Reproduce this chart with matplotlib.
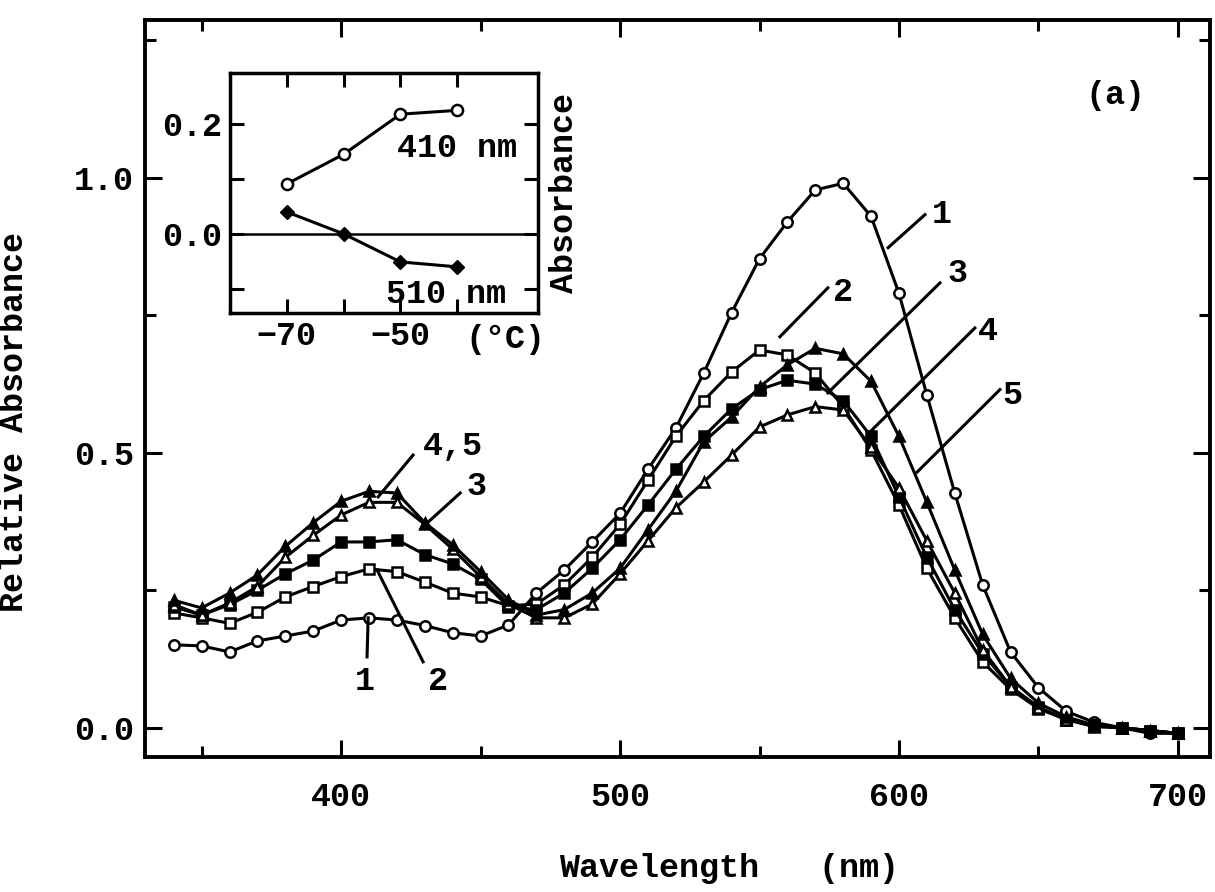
import numpy as np
import matplotlib
matplotlib.use("Agg")
import matplotlib.pyplot as plt
from matplotlib.ticker import MultipleLocator, FixedLocator

plt.rcParams['font.family'] = ['Liberation Mono', 'DejaVu Sans Mono']
plt.rcParams['font.weight'] = 'bold'
plt.rcParams['axes.labelweight'] = 'bold'

# wavelength (nm) and relative absorbance of the five spectra
wavelength = list(range(340, 701, 10))
curve1 = [.151, .149, .138, .158, .167, .176, .196, .200, .196, .186, .173, .167, .187,
          .245, .287, .338, .390, .470, .545, .645, .755, .853, .920, .978, .990, .930,
          .790, .605, .427, .260, .138, .073, .030, .010, .000, -.010, -.010]
curve2 = [.209, .200, .190, .210, .238, .257, .275, .289, .284, .265, .245, .238, .222,
          .225, .260, .310, .370, .450, .530, .595, .647, .687, .678, .645, .584, .505,
          .405, .290, .200, .120, .070, .035, .015, .005, .000, -.005, -.010]
curve3 = [.220, .205, .224, .250, .280, .305, .338, .338, .342, .315, .298, .270, .220,
          .215, .245, .290, .342, .405, .470, .530, .580, .615, .632, .625, .595, .530,
          .420, .310, .215, .135, .075, .038, .015, .005, .000, -.005, -.010]
curve4 = [.224, .205, .227, .257, .310, .350, .387, .410, .410, .370, .325, .275, .225,
          .200, .200, .225, .280, .340, .400, .447, .496, .547, .569, .584, .578, .510,
          .436, .340, .245, .142, .075, .036, .015, .002, .000, -.005, -.010]
curve5 = [.232, .218, .245, .278, .330, .373, .412, .430, .427, .373, .333, .284, .233,
          .205, .215, .245, .290, .360, .430, .520, .565, .620, .660, .690, .680, .630,
          .530, .410, .287, .170, .090, .045, .020, .005, .000, -.005, -.010]

# inset: absorbance change vs temperature
temp = [-70, -60, -50, -40]
abs410 = [0.091, 0.145, 0.218, 0.225]
abs510 = [0.040, 0.000, -0.051, -0.060]

fs = 24
lw = 2.2

fig = plt.figure(figsize=(12.15, 8.92), dpi=100)
ax = fig.add_axes([145/1215, 135/892, 1065/1215, 737/892])

mk = dict(color='black', lw=lw, markersize=7.5, markeredgewidth=1.8)
ax.plot(wavelength, curve1, marker='o', markerfacecolor='white', **mk)
ax.plot(wavelength, curve2, marker='s', markerfacecolor='white', **mk)
ax.plot(wavelength, curve3, marker='s', markerfacecolor='black', **mk)
ax.plot(wavelength, curve4, marker='^', markerfacecolor='white', **mk)
ax.plot(wavelength, curve5, marker='^', markerfacecolor='black', **mk)

ax.set_xlim(329.7, 711.5)
ax.set_ylim(-0.053, 1.287)
ax.xaxis.set_major_locator(FixedLocator([400, 500, 600, 700]))
ax.xaxis.set_minor_locator(FixedLocator([350, 450, 550, 650]))
ax.yaxis.set_major_locator(FixedLocator([0.0, 0.5, 1.0]))
ax.yaxis.set_minor_locator(FixedLocator([0.25, 0.75, 1.25]))
ax.set_yticklabels(['0.0', '0.5', '1.0'])
ax.tick_params(which='both', direction='in', top=True, right=True, width=2.2,
               labelsize=fs)
ax.tick_params(which='major', length=12)
ax.tick_params(which='minor', length=8)
ax.tick_params(axis='x', pad=18)
ax.tick_params(axis='y', pad=8)
for s in ax.spines.values():
    s.set_linewidth(2.8)

ax.set_xlabel('Wavelength   (nm)', fontsize=fs)
ax.xaxis.set_label_coords((729 - 145) / 1065, -0.13)
ax.set_ylabel('Relative Absorbance', fontsize=fs)
ax.yaxis.set_label_coords(-0.108, 0.455)

ax.text(0.911, 0.898, '(a)', transform=ax.transAxes, fontsize=fs,
        ha='center', va='center')

# curve labels with leader lines
lbl = [('1', (596.1, 0.873), (609.3, 0.933), (615.4, 0.933)),
       ('2', (557.3, 0.711), (574.5, 0.800), (579.9, 0.791)),
       ('3', (574.5, 0.609), (614.7, 0.809), (620.8, 0.827)),
       ('4', (589.6, 0.538), (627.2, 0.727), (631.9, 0.720)),
       ('5', (606.5, 0.465), (636.2, 0.615), (640.5, 0.605)),
       ('4,5', (413.3, 0.420), (425.8, 0.496), (440.1, 0.511)),
       ('3', (430.1, 0.369), (442.7, 0.427), (448.7, 0.438)),
       ('1', (409.3, 0.129), (409.7, 0.200), (408.6, 0.084)),
       ('2', (429.4, 0.120), (412.9, 0.287), (434.8, 0.084))]
for t, p0, p1, pt in lbl:
    ax.plot([p0[0], p1[0]], [p0[1], p1[1]], color='black', lw=lw)
    ax.text(pt[0], pt[1], t, fontsize=fs, ha='center', va='center')

# inset
axi = fig.add_axes([230/1215, (892-313)/892, 308/1215, 240/892])
axi.axhline(0.0, color='black', lw=1.8)
axi.plot(temp, abs410, color='black', lw=lw, marker='o', markersize=8,
         markerfacecolor='white', markeredgewidth=1.8)
axi.plot(temp, abs510, color='black', lw=lw, marker='D', markersize=7,
         markerfacecolor='black')
axi.set_xlim(-80, -25.8)
axi.set_ylim(-0.144, 0.293)
axi.set_xticks([-70, -60, -50, -40])
axi.set_xticklabels(['\u221270', '', '\u221250', ''])
axi.set_yticks([-0.1, 0.0, 0.1, 0.2])
axi.set_yticklabels(['', '0.0', '', '0.2'])
axi.tick_params(direction='in', top=True, right=True, length=10, width=2.2,
                labelsize=fs, pad=6)
for s in axi.spines.values():
    s.set_linewidth(2.5)
axi.yaxis.set_label_position('right')
axi.set_ylabel('Absorbance', fontsize=fs, labelpad=8)
axi.text(-40, 0.156, '410 nm', fontsize=fs, ha='center', va='center')
axi.text(-42, -0.111, '510 nm', fontsize=fs, ha='center', va='center')
axi.text(-31.6, -0.193, '(\u00b0C)', fontsize=fs, ha='center', va='center',
         clip_on=False)

fig.savefig('out.png', dpi=100, facecolor='white')
